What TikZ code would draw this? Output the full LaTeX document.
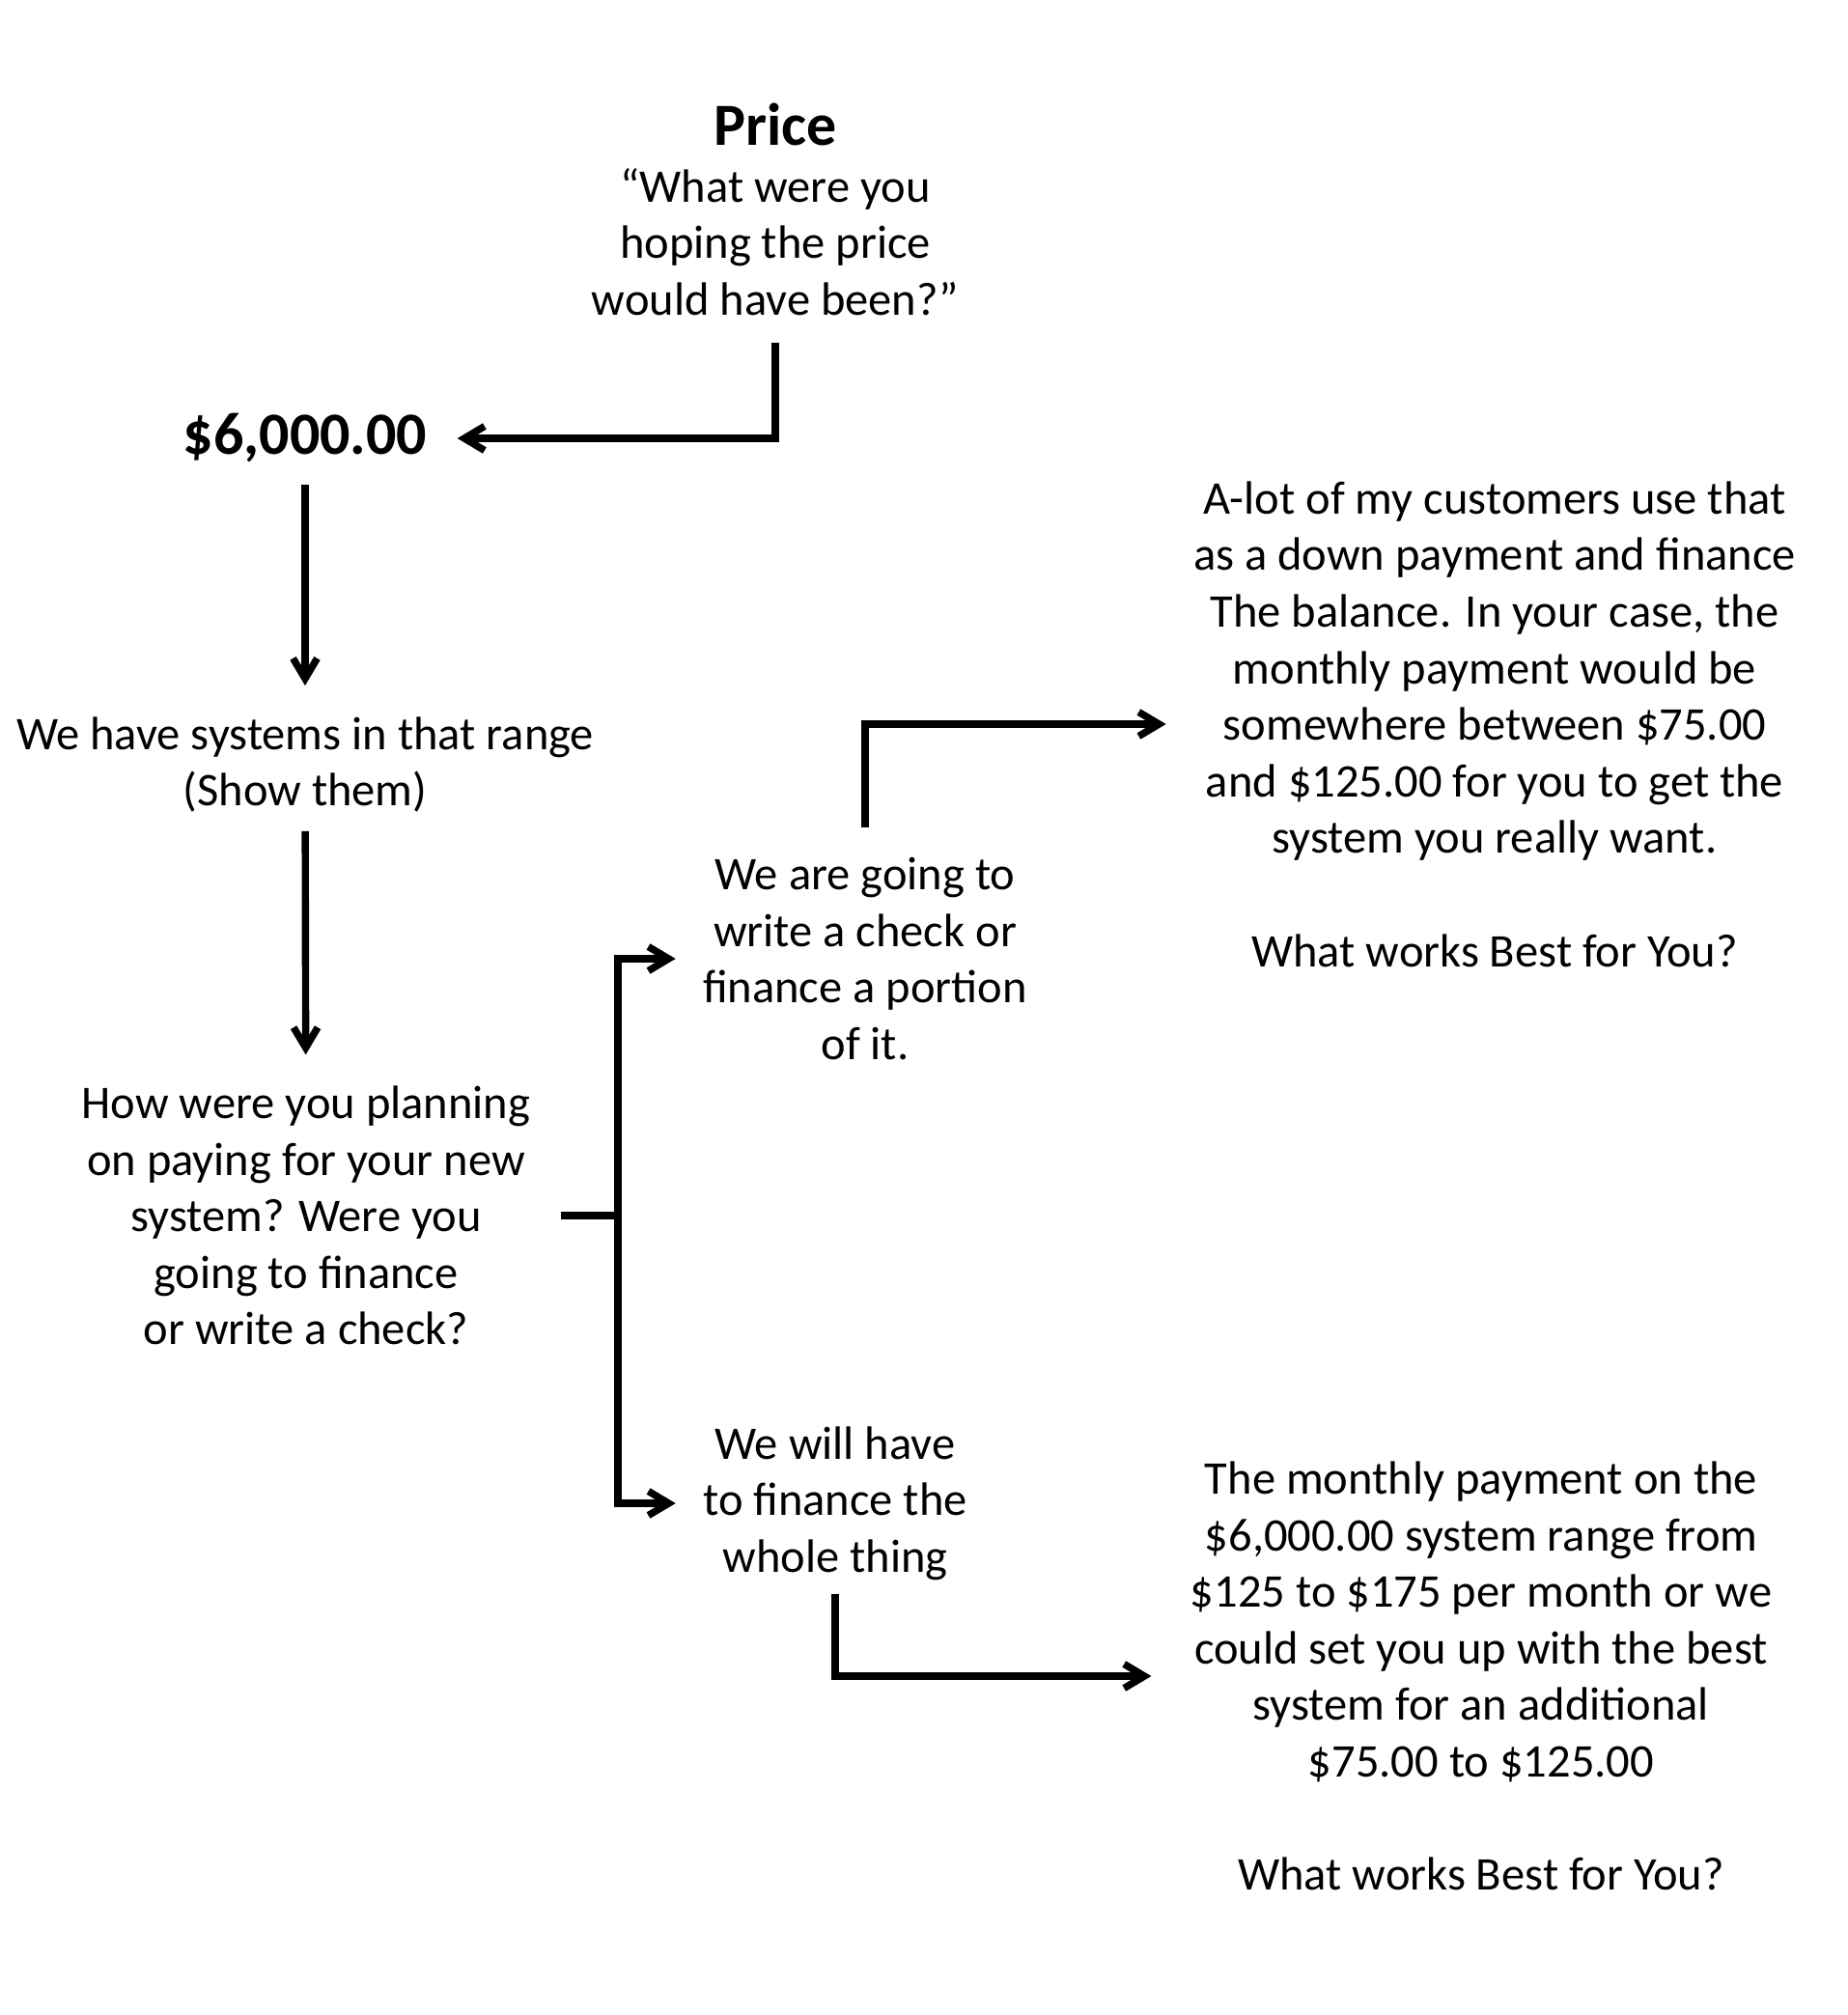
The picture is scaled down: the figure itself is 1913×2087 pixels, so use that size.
\documentclass[tikz,border=0pt]{standalone}
\usepackage{fontspec}
\setmainfont{Carlito}
\usetikzlibrary{arrows.meta}
\begin{document}
\begin{tikzpicture}[x=0.5pt,y=-0.5pt,
  txt/.style={align=center, inner sep=0pt, font=\fontsize{24.25}{29.3}\selectfont},
  ttl/.style={inner sep=0pt, font=\bfseries\fontsize{31}{37}\selectfont},
  conn/.style={line width=3.7pt},
  arr/.style={conn, -{Straight Barb[length=10.5pt,width=12.5pt]}}]
\useasboundingbox[fill=white] (0,0) rectangle (1913,2087);

\node[txt] (price) at (803,217) {{\bfseries\fontsize{31}{29.3}\selectfont Price}\\“What were you\\hoping the price\\would have been?”};
\node[ttl] (dollar) at (316,454) {\$6,000.00};
\node[txt] (systems) at (316,792) {We have systems in that range\\(Show them)};
\node[txt] (how) at (317,1259) {How were you planning\\on paying for your new\\system? Were you\\going to finance\\or write a check?};
\node[txt] (check) at (896,993) {We are going to\\write a check or\\finance a portion\\of it.};
\node[txt] (whole) at (865,1557) {We will have\\to finance the\\whole thing};
\node[txt] (down) at (1548,750) {A-lot of my customers use that\\as a down payment and finance\\The balance. In your case, the\\monthly payment would be\\somewhere between \$75.00\\and \$125.00 for you to get the\\system you really want.\\[29.3pt]What works Best for You?};
\node[txt] (lower) at (1534,1736) {The monthly payment on the\\\$6,000.00 system range from\\\$125 to \$175 per month or we\\could set you up with the best\\system for an additional\\\$75.00 to \$125.00\\[29.3pt]What works Best for You?};

\path (640,0) coordinate (xs);
\coordinate (split) at (how.east -| xs);

\draw[arr, shorten <=13.75pt, shorten >=15.5pt] (price.south) |- (dollar);
\draw[arr, shorten <=11pt, shorten >=16pt] (dollar) -- (systems);
\draw[arr, shorten <=9.5pt, shorten >=16pt] (systems) -- (how);
\draw[conn, shorten <=15.5pt] (how.east) -- (split);
\draw[arr, shorten >=14pt] (split) |- (check);
\draw[arr, shorten >=14pt] (split) |- (whole);
\draw[arr, shorten <=15.5pt, shorten >=14pt] (check.north) |- (down);
\draw[arr, shorten <=6.75pt, shorten >=20pt] (whole.south) |- (lower);
\end{tikzpicture}
\end{document}
